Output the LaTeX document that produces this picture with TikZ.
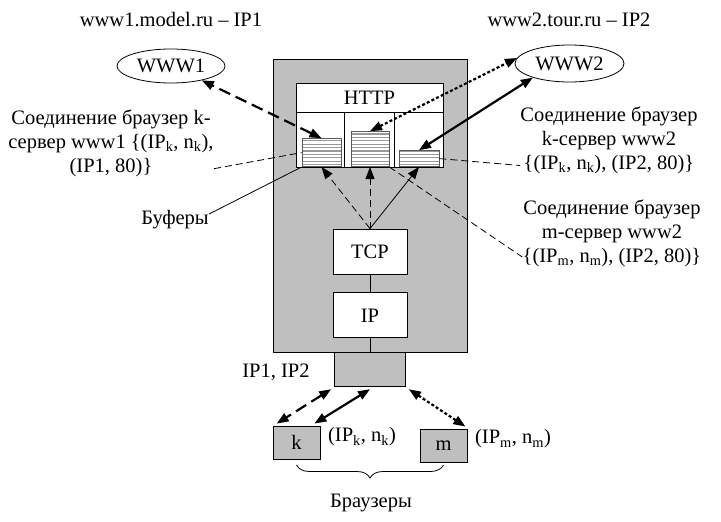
\documentclass[tikz,border=0pt]{standalone}
\usepackage{fontspec}
\setmainfont{Liberation Serif}
\usetikzlibrary{arrows.meta,shapes,positioning,calc,decorations.pathreplacing}

\begin{document}
\begin{tikzpicture}[
        x=1pt, y=-1pt,
        font=\fontsize{20.5}{24}\selectfont,
        every path/.style={line width=.8pt},
        >={Triangle[length=12pt,width=9pt]},
        box/.style={draw, fill=white, inner sep=0pt},
        graybox/.style={draw, fill=gray!50, inner sep=0pt},
        host/.style={draw, ellipse, inner sep=0pt, minimum width=108pt, minimum height=34pt},
        txt/.style={align=center, inner sep=0pt},
        buffer/.style={draw=gray!70!black, fill=white, inner sep=0pt, minimum width=39pt,
            path picture={
                \foreach \yy in {2,5.4,...,40}
                    \draw[gray!80, line width=1.3pt]
                        ([yshift=\yy pt]path picture bounding box.south west) --
                        ([yshift=\yy pt]path picture bounding box.south east);
            }},
        bold/.style={line width=2.2pt},
        longdash/.style={bold, dash pattern=on 12pt off 6pt},
        dots/.style={bold, dash pattern=on 3pt off 2.2pt},
        thindash/.style={dash pattern=on 7pt off 4pt}
    ]
    \useasboundingbox (0,0) rectangle (721,522);

    % Nodes
    \node (server) [graybox, minimum width=194pt, minimum height=293pt] at (370,205.5) {};
    \node (httphead) [box, minimum width=147pt, minimum height=29pt] at (369.5,97.5) {HTTP};
    \node (httpbody) [box, minimum width=147pt, minimum height=55pt, below=0pt of httphead] {};
    \draw ($(httpbody.north west)!1/3!(httpbody.north east)$) -- ($(httpbody.south west)!1/3!(httpbody.south east)$);
    \draw ($(httpbody.north west)!2/3!(httpbody.north east)$) -- ($(httpbody.south west)!2/3!(httpbody.south east)$);

    \node (buf1) [buffer, minimum height=28pt, anchor=south] at (321.5,167) {};
    \node (buf2) [buffer, minimum height=35pt, minimum width=38pt, anchor=south] at (370,167) {};
    \node (buf3) [buffer, minimum height=16pt, minimum width=40pt, anchor=south] at (419,167) {};

    \node (tcp) [box, minimum width=74pt, minimum height=45pt] at (370,251.5) {TCP};
    \node (ip) [box, minimum width=74pt, minimum height=45pt, below=18pt of tcp] {IP};
    \node (iface) [graybox, minimum width=71pt, minimum height=34pt, below=0pt of server] {};
    \node (k) [graybox, minimum width=47pt, minimum height=33pt] at (296.5,442.5) {k};
    \node (m) [graybox, minimum width=47pt, minimum height=33pt] at (443.5,445.5) {m};

    \node (www1) [host] at (171,66) {WWW1};
    \node (www2) [host, minimum width=109pt, minimum height=37pt] at (569.5,63.5) {WWW2};
    \node (name1) [txt] at (171,20) {www1.model.ru – IP1};
    \node (name2) [txt] at (569,20) {www2.tour.ru – IP2};

    \node (conk1) [txt] at (111,143) {Соединение браузер k-\\
        сервер www1 \{(IP\textsubscript{k}, n\textsubscript{k}),\\
        (IP1, 80)\}};
    \node (conk2) [txt] at (609,140) {Соединение браузер\\
        k-сервер www2\\
        \{(IP\textsubscript{k}, n\textsubscript{k}), (IP2, 80)\}};
    \node (conm2) [txt] at (612,233) {Соединение браузер\\
        m-сервер www2\\
        \{(IP\textsubscript{m}, n\textsubscript{m}), (IP2, 80)\}};
    \node (buflabel) [txt] at (175,220) {Буферы};
    \node (ifacelabel) [txt] at (276,372) {IP1, IP2};
    \node (klabel) [txt] at (362,437) {(IP\textsubscript{k}, n\textsubscript{k})};
    \node (mlabel) [txt] at (513,439) {(IP\textsubscript{m}, n\textsubscript{m})};
    \node (browsers) [txt] at (371,503) {Браузеры};

    % Edges
    \draw (tcp) -- (ip);
    \draw (ip) -- (iface);

    \draw[<->, longdash] (buf1.north) -- (www1.-25);
    \draw[<->, dots] (buf2.north) -- (www2.174);
    \draw[<->, bold] (buf3.north) -- (www2.201);

    \draw[->, thindash] (tcp.north) -- (buf1.south);
    \draw[->, thindash] (tcp.north) -- (buf2.south);
    \draw[->] (tcp.north) -- (buf3.south);

    \draw[thindash] (conk1.-14) -- (buf1.west);
    \draw (buflabel.10) -- (buf1.south west);
    \draw[thindash] (buf3.east) -- (conk2.196);
    \draw[thindash] (buf2.south east) -- (conm2.195);

    \draw[<->, longdash] ([xshift=-3pt,yshift=-2pt]iface.south west) -- ([xshift=4pt,yshift=2pt]k.north west);
    \draw[<->, bold] ([yshift=-2pt]iface.south) -- ([xshift=-6pt,yshift=2pt]k.north east);
    \draw[<->, dots] ([xshift=3pt,yshift=-2pt]iface.south east) -- ([xshift=-2pt,yshift=2pt]m.north east);

    \draw[decorate, decoration={brace, amplitude=13pt}] (m.south |- 0,465) -- (k.south |- 0,465);
\end{tikzpicture}
\end{document}
